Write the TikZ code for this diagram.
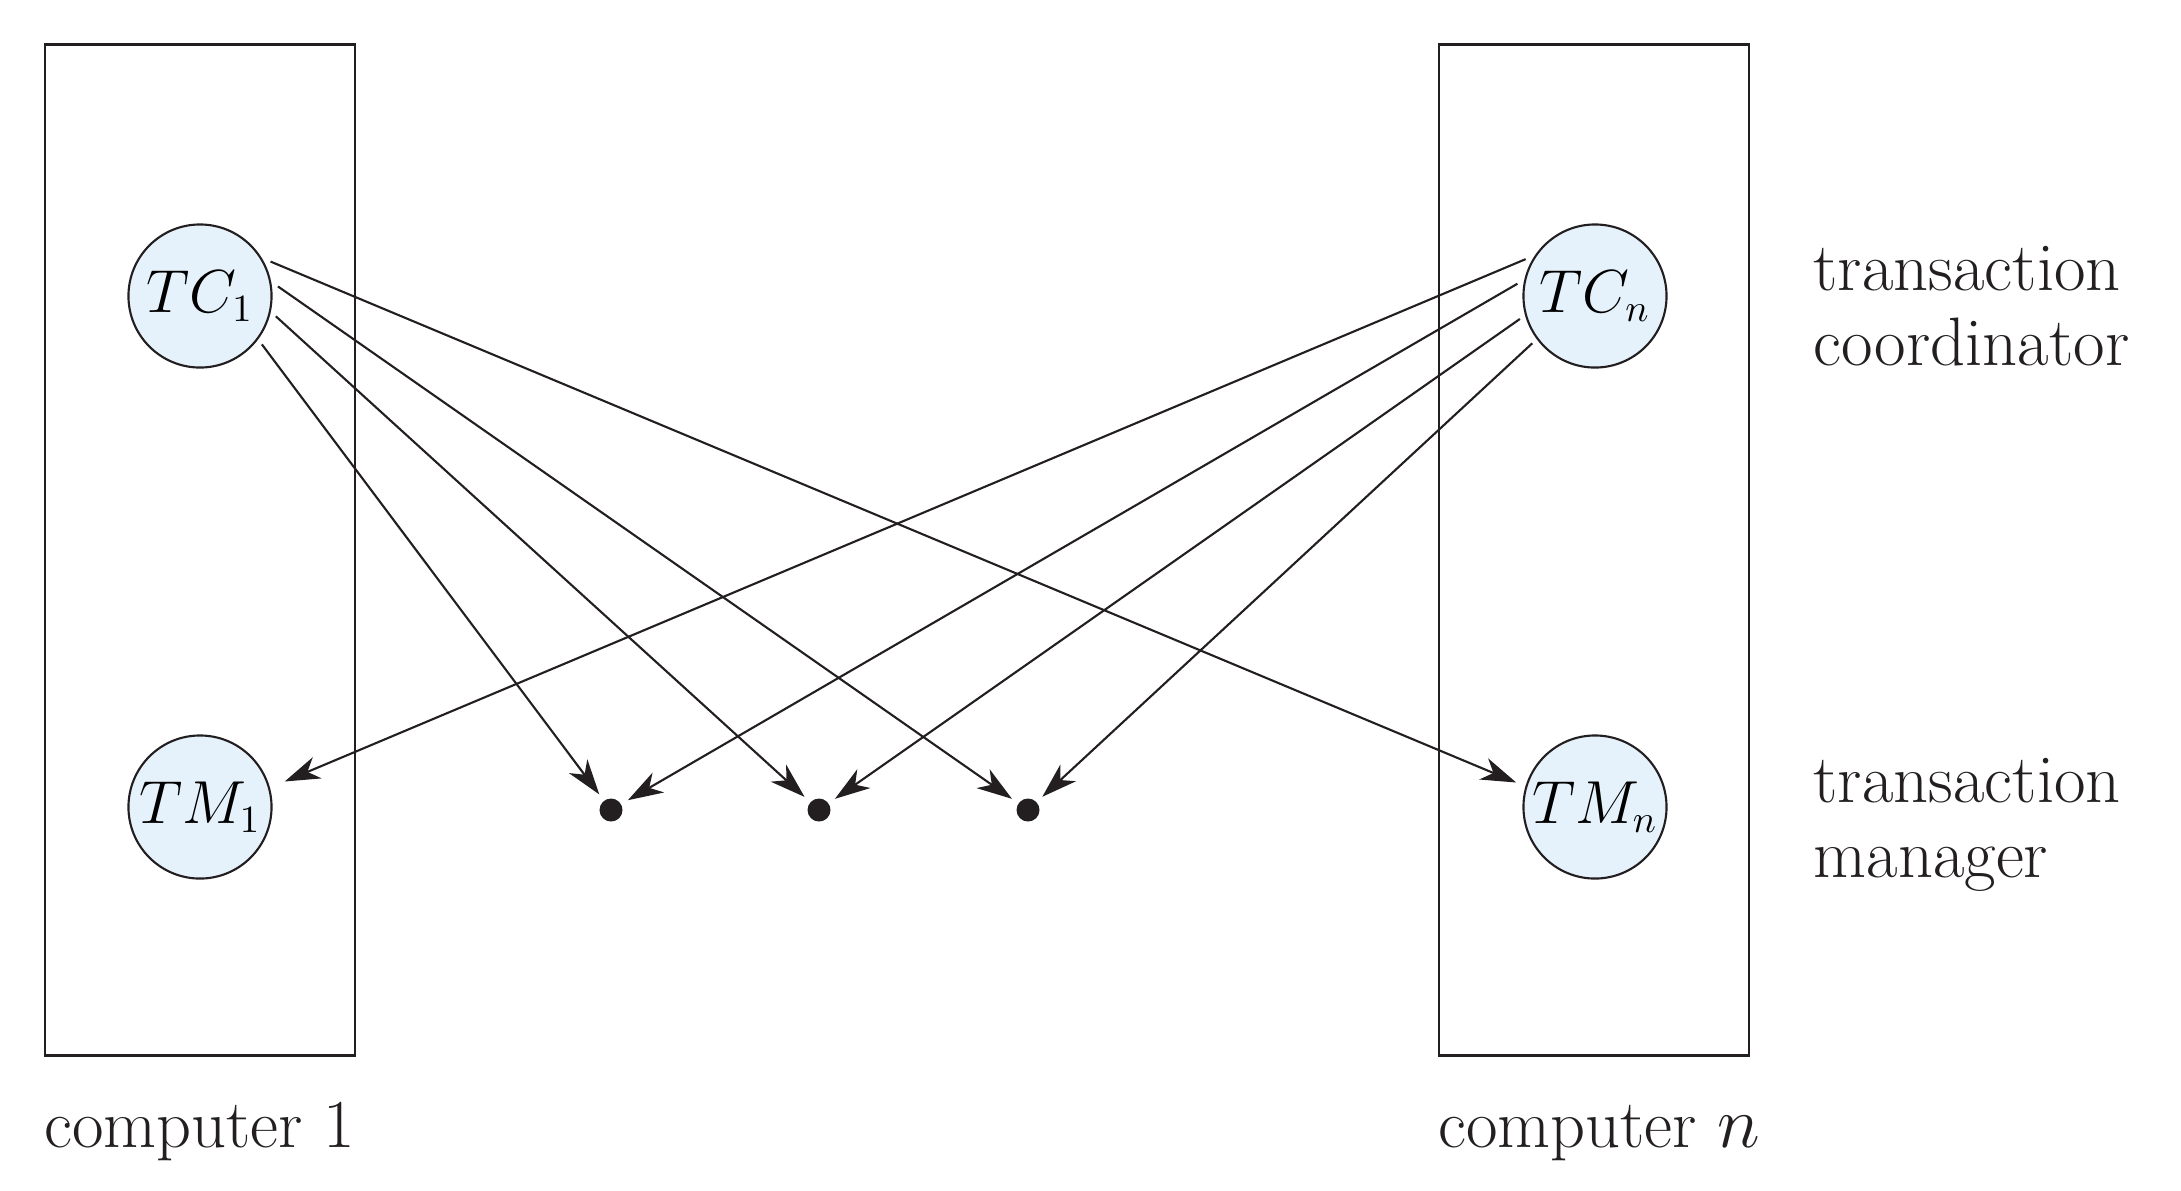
\documentclass[tikz,border=0pt]{standalone}
\usepackage{tikz}
\usetikzlibrary{arrows.meta,positioning}
\definecolor{ink}{HTML}{231F20}
\definecolor{tcfill}{HTML}{E6F2FB}

\begin{document}
\begin{tikzpicture}[x=0.01cm,y=-0.01cm,>={Stealth[length=10pt,width=6.5pt,inset=3pt]},
    site/.style={draw=ink,line width=0.75pt,minimum width=3.1cm,minimum height=10.11cm,inner sep=0pt},
    agent/.style={circle,draw=ink,fill=tcfill,line width=0.6pt,minimum size=1.43cm,inner sep=0pt,outer sep=0.07cm,font=\fontsize{16}{16}\selectfont},
    sink/.style={circle,fill=ink,minimum size=0.23cm,inner sep=0pt,outer sep=0.08cm},
    msg/.style={->,draw=ink,line width=0.6pt},
    lbl/.style={font=\fontsize{19.5}{21.3}\selectfont,align=left,text=ink,inner sep=0pt}]
      \useasboundingbox (0,0) rectangle (2181,1190);
      \node[site] (comp1) at (200,550) {};
      \node[site] (compn) at (1594,550) {};
      \node[lbl,anchor=base west] (cap1) at ([yshift=-0.9cm]comp1.south west) {computer 1};
      \node[lbl,anchor=base west] (capn) at ([yshift=-0.9cm]compn.south west) {computer $n$};
      \foreach \x/\y/\labnode/\txt in {200/296/tc1/TC_1,200/807/tm1/TM_1,1595/296/tcn/TC_n,1595/807/tmn/TM_n}
        \node[agent] (\labnode) at (\x,\y) {$\txt$};
      \foreach \x/\labnode in {611/d1,819/d2,1028/d3}
        \node[sink] (\labnode) at (\x,810) {};
      \node[lbl,anchor=base west] (tclab) at (1813,365) {transaction\\coordinator};
      \node[lbl,anchor=base west] (tmlab) at (1813,877) {transaction\\manager};
      \draw[msg,shorten >=0.04cm] (tc1.26) -- (tmn.163);
      \foreach \ang/\dst in {7/d3,-15/d2,-38/d1}
        \draw[msg] (tc1.\ang) -- (\dst);
      \draw[msg,shorten >=0.1cm] (tcn.152) -- (tm1.16);
      \foreach \ang/\dst in {171/d1,197/d2,217/d3}
        \draw[msg] (tcn.\ang) -- (\dst);
    \end{tikzpicture}
\end{document}
